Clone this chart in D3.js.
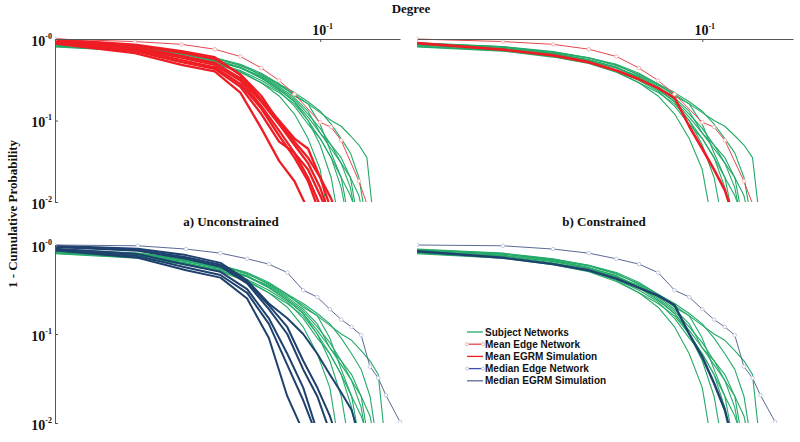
<!DOCTYPE html>
<html><head><meta charset="utf-8">
<script src="https://cdn.jsdelivr.net/npm/d3@7"></script>
<style>body{margin:0;background:#fff}svg{display:block}</style>
</head><body>
<svg id="c" width="800" height="442"></svg>
<script>
// ---------------- DATA ----------------
const NODES = 100; // degree normalised by network size
// 1 - cumulative probability at degrees 1,2,3,... for each subject network
const subjectNetworks = [
  [0.84,0.75,0.63,0.52,0.40,0.29,0.20,0.12,0.06,0.025,0.004],
  [0.88,0.79,0.67,0.56,0.45,0.33,0.24,0.17,0.10,0.05,0.02,0.004],
  [0.81,0.72,0.61,0.51,0.41,0.31,0.23,0.15,0.09,0.06,0.035,0.015,0.004],
  [0.90,0.81,0.70,0.59,0.48,0.36,0.27,0.21,0.16,0.09,0.04,0.02,0.005],
  [0.86,0.77,0.66,0.55,0.45,0.34,0.25,0.18,0.12,0.08,0.05,0.03,0.015,0.004],
  [0.82,0.73,0.62,0.53,0.44,0.35,0.26,0.19,0.13,0.07,0.05,0.035,0.02,0.005],
  [0.88,0.80,0.68,0.58,0.47,0.37,0.28,0.22,0.17,0.13,0.09,0.06,0.04,0.02,0.005],
  [0.85,0.76,0.65,0.54,0.44,0.33,0.24,0.17,0.11,0.07,0.045,0.03,0.02,0.012,0.004],
  [0.89,0.80,0.69,0.59,0.49,0.38,0.28,0.20,0.16,0.125,0.10,0.085,0.065,0.05,0.035,0.005],
  [0.80,0.71,0.60,0.50,0.39,0.29,0.22,0.16,0.10,0.06,0.035,0.02,0.012,0.006]
];
const meanEdgeDegrees = [1,2,3,4,5,6,7,8,10,11,12,14,15];
const meanEdgeValues  = [1.0,0.93,0.86,0.75,0.61,0.44,0.31,0.21,0.095,0.083,0.057,0.018,0.0095];
const meanEgrmUnconstrained = [
  [0.88,0.67,0.48,0.40,0.22,0.08,0.032,0.018,0.008],
  [0.92,0.74,0.55,0.45,0.28,0.14,0.065,0.035,0.018,0.007],
  [0.95,0.79,0.62,0.51,0.33,0.17,0.09,0.05,0.03,0.015,0.006],
  [0.99,0.85,0.71,0.60,0.36,0.18,0.10,0.06,0.045,0.02,0.008],
  [0.90,0.71,0.52,0.43,0.26,0.12,0.055,0.04,0.02,0.009],
  [0.97,0.83,0.68,0.57,0.37,0.20,0.095,0.055,0.035,0.02,0.011,0.005],
  [0.93,0.77,0.59,0.48,0.31,0.15,0.075,0.04,0.025,0.012,0.006]
];
const meanEgrmConstrained = [
  [0.89,0.74,0.63,0.52,0.41,0.32,0.25,0.19,0.085,0.045,0.025,0.014,0.006]
];
const medianEdgeDegrees = [1,2,3,4,5,6,7,8,9,10,11,12,13,14,15,16,18];
const medianEdgeValues  = [1.0,0.98,0.90,0.81,0.70,0.61,0.49,0.31,0.26,0.19,0.145,0.12,0.097,0.043,0.032,0.0205,0.0103];
const medianEgrmUnconstrained = [
  [0.87,0.72,0.52,0.43,0.25,0.09,0.02,0.008],
  [0.91,0.79,0.60,0.50,0.32,0.15,0.06,0.025,0.008],
  [0.95,0.86,0.70,0.57,0.37,0.19,0.10,0.04,0.02,0.008],
  [0.98,0.91,0.77,0.63,0.40,0.22,0.15,0.10,0.06,0.035,0.022,0.014,0.006],
  [0.89,0.75,0.56,0.46,0.29,0.13,0.045,0.018,0.007],
  [0.96,0.88,0.73,0.60,0.38,0.21,0.12,0.05,0.025,0.012,0.005]
];
const medianEgrmConstrained = [
  [0.85,0.72,0.61,0.52,0.42,0.33,0.27,0.21,0.10,0.055,0.028,0.014,0.005]
];
const yTickValues = [1, 0.1, 0.01];
const yTickSup = ["-0","-1","-2"];
const xTickValues = [0.1];
const xTickSup = ["-1"];
const legendLabels = ["Subject Networks","Mean Edge Network","Mean EGRM Simulation","Median Edge Network","Median EGRM Simulation"];
const panelTitles = ["a) Unconstrained","b) Constrained"];

// ---------------- STYLE ----------------
const GREEN = "#24aa68", RED = "#ee1d24", RED_THIN = "#e5474d", RED_MK = "#f4b3b3";
const NAVY = "#1f416e", SLATE = "#5a6a96", SLATE_MK = "#c5cade";
const AXIS = "#555";
const serif = "'Liberation Serif','Times New Roman',serif";
const sans = "'Liberation Sans',Arial,sans-serif";

const svg = d3.select("#c");

const panels = [
  {key:"tl", xr:[55,400], xmax:0.2,  yr:[202,39], thick:meanEgrmUnconstrained, thickColor:RED, thickW:2.3,
   refDeg:meanEdgeDegrees, refVal:meanEdgeValues, refColor:RED_THIN, mk:RED_MK, xAxis:true, yAxis:true},
  {key:"tr", xr:[417,793], xmax:0.208, yr:[202,39], thick:meanEgrmConstrained, thickColor:RED, thickW:2.6,
   refDeg:meanEdgeDegrees, refVal:meanEdgeValues, refColor:RED_THIN, mk:RED_MK, xAxis:true, yAxis:false},
  {key:"bl", xr:[55,400], xmax:0.18, yr:[423,245], thick:medianEgrmUnconstrained, thickColor:NAVY, thickW:2.0,
   refDeg:medianEdgeDegrees, refVal:medianEdgeValues, refColor:SLATE, mk:SLATE_MK, xAxis:false, yAxis:true},
  {key:"br", xr:[417,793], xmax:0.208, yr:[423,245], thick:medianEgrmConstrained, thickColor:NAVY, thickW:2.4,
   refDeg:medianEdgeDegrees, refVal:medianEdgeValues, refColor:SLATE, mk:SLATE_MK, xAxis:false, yAxis:false}
];

const defs = svg.append("defs");

panels.forEach(p => {
  const xs = d3.scaleLog().domain([0.01, p.xmax]).range(p.xr);
  const ys = d3.scaleLog().domain([0.01, 1]).range(p.yr);
  defs.append("clipPath").attr("id","clip-"+p.key).append("rect")
    .attr("x", p.xr[0]).attr("y", p.yr[1]-6).attr("width", p.xr[1]-p.xr[0]+8).attr("height", p.yr[0]-p.yr[1]+6);

  const g = svg.append("g");
  const plot = g.append("g").attr("clip-path","url(#clip-"+p.key+")");
  const line = d3.line().x(d => xs(d[0]/NODES)).y(d => ys(d[1]));
  const seq = vals => vals.map((v,i) => [i+1, v]);

  if (p.xAxis) {
    const ax = g.append("g").attr("transform",`translate(0,${p.yr[1]})`)
      .call(d3.axisTop(xs).tickValues(xTickValues).tickSizeInner(-3).tickSizeOuter(0).tickFormat(""));
    ax.select(".domain").attr("stroke", AXIS);
    ax.selectAll(".tick line").attr("stroke", AXIS);
    ax.selectAll(".tick").each(function(d,i){
      const t = d3.select(this).append("text").attr("x",2).attr("y",-4)
        .attr("text-anchor","middle").attr("fill","#111")
        .style("font-family",serif).style("font-weight","bold").style("font-size","14px");
      t.append("tspan").text("10");
      t.append("tspan").attr("dy",-6).style("font-size","8px").text(xTickSup[i]);
    });
  }
  if (p.yAxis) {
    const ay = g.append("g").attr("transform",`translate(${p.xr[0]},0)`)
      .call(d3.axisLeft(ys).tickValues(yTickValues).tickSizeInner(-3).tickSizeOuter(0).tickFormat(""));
    ay.select(".domain").attr("stroke", AXIS);
    ay.selectAll(".tick line").attr("stroke", AXIS);
    ay.selectAll(".tick").each(function(d,i){
      const t = d3.select(this).append("text").attr("x",-3).attr("y",6)
        .attr("text-anchor","end").attr("fill","#111")
        .style("font-family",serif).style("font-weight","bold").style("font-size","14px");
      t.append("tspan").text("10");
      t.append("tspan").attr("dy",-7).style("font-size","8px").text(yTickSup[i]);
    });
  }

  plot.selectAll("path.subj").data(subjectNetworks).join("path")
    .attr("class","subj").attr("d", v => line(seq(v)))
    .attr("fill","none").attr("stroke",GREEN).attr("stroke-width",1.1).attr("stroke-linejoin","round");
  plot.selectAll("path.sim").data(p.thick).join("path")
    .attr("class","sim").attr("d", v => line(seq(v)))
    .attr("fill","none").attr("stroke",p.thickColor).attr("stroke-width",p.thickW).attr("stroke-linejoin","round");
  const refPts = p.refDeg.map((k,i) => [k, p.refVal[i]]);
  plot.append("path").attr("d", line(refPts)).attr("fill","none")
    .attr("stroke",p.refColor).attr("stroke-width",1).attr("stroke-linejoin","round");
  plot.selectAll("circle.mk").data(refPts).join("circle").attr("class","mk")
    .attr("cx", d => xs(d[0]/NODES)).attr("cy", d => ys(d[1])).attr("r",1.8)
    .attr("fill","#fff").attr("stroke",p.mk).attr("stroke-width",1);
});

const txt = (x,y,s,size) => svg.append("text").attr("x",x).attr("y",y).attr("text-anchor","middle")
  .attr("fill","#111").style("font-family",serif).style("font-weight","bold").style("font-size",size+"px").text(s);
txt(411,13,"Degree",13);
txt(231,226,panelTitles[0],13);
txt(604,226,panelTitles[1],13);
svg.append("text").attr("transform","translate(17,214) rotate(-90)").attr("text-anchor","middle")
  .attr("fill","#111").style("font-family",serif).style("font-weight","bold").style("font-size","13px")
  .text("1 - Cumulative Probability");

const legColors = [GREEN, RED_THIN, RED, "#3f4fa6", SLATE];
const legMarkers = [null, RED_MK, null, SLATE_MK, null];
const leg = svg.append("g");
legendLabels.forEach((lab,i) => {
  const y = 332 + i*12.2;
  leg.append("line").attr("x1",467).attr("x2",483).attr("y1",y).attr("y2",y)
    .attr("stroke",legColors[i]).attr("stroke-width",1.3);
  if (legMarkers[i]) {
    [467,483].forEach(x => leg.append("circle").attr("cx",x).attr("cy",y).attr("r",1.6)
      .attr("fill","#fff").attr("stroke",legMarkers[i]));
  }
  leg.append("text").attr("x",485).attr("y",y+3.5).attr("fill","#111")
    .style("font-family",sans).style("font-weight","bold").style("font-size","10px").text(lab);
});
</script>
</body></html>
